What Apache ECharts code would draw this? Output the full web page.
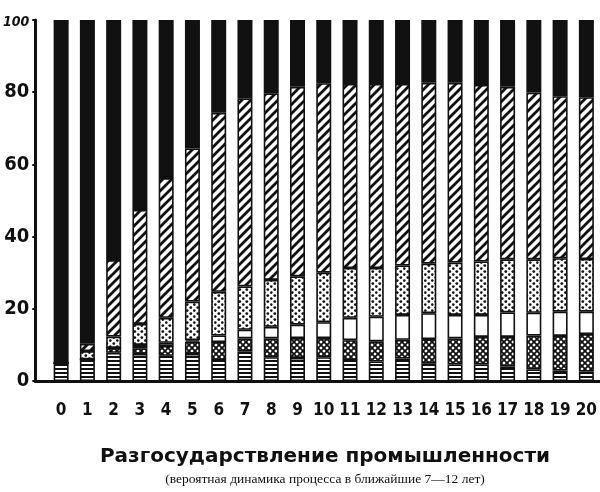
<!DOCTYPE html>
<html>
<head>
<meta charset="utf-8">
<script src="https://cdn.jsdelivr.net/npm/echarts@6/dist/echarts.min.js"></script>
<style>
html,body{margin:0;padding:0;background:#fff;}
#c{width:600px;height:492px;}
</style>
</head>
<body>
<div id="c"></div>
<script>
// Categories (x tick labels)
const categories = ['0','1','2','3','4','5','6','7','8','9','10','11','12','13','14','15','16','17','18','19','20'];
// y tick labels
const yTicks = [0, 20, 40, 60, 80, 100];
// Segment values (bottom to top), percent
const striped   = [5, 6, 7.8, 7.5, 7, 7.5, 5.8, 8.2, 6.6, 6.4, 6.6, 5.8, 5.4, 6.2, 4.9, 4.6, 4.6, 4, 3.2, 2.9, 2.6];
const crossed   = [0, 0, 1.4, 1.6, 2.7, 3.4, 5, 3.6, 5.2, 5.5, 5.3, 5.5, 5.6, 5.2, 6.7, 7.2, 7.6, 8.2, 9.4, 9.6, 10.4];
const blank     = [0, 0, 0, 0.9, 0.9, 0.4, 1.8, 2.4, 3.2, 3.7, 4.4, 6.2, 6.8, 6.9, 7.2, 6.5, 6.1, 6.8, 6.3, 6.7, 6.2];
const dotted    = [0, 2.3, 3.1, 5.8, 6.9, 10.7, 12.1, 12, 13, 13.4, 13.7, 13.8, 13.5, 13.7, 13.7, 14.5, 14.8, 14.7, 14.8, 14.8, 14.6];
const hatched   = [0, 2, 21.2, 31.6, 38.7, 42.4, 49.6, 52.1, 51.7, 52.5, 52.5, 51, 51, 50.3, 50.1, 49.8, 48.9, 47.8, 46.2, 44.9, 44.8];
const solid     = [95, 89.7, 66.5, 52.6, 43.8, 35.6, 25.7, 21.7, 20.3, 18.5, 17.5, 17.7, 17.7, 17.7, 17.4, 17.4, 18, 18.5, 20.1, 21.1, 21.4];

const titleText = 'Разгосударствление промышленности';
const subtitleText = '(вероятная динамика процесса в ближайшие 7—12 лет)';

function mk(w, h, draw) {
  const c = document.createElement('canvas');
  c.width = w; c.height = h;
  const g = c.getContext('2d');
  g.fillStyle = '#fff'; g.fillRect(0, 0, w, h);
  g.fillStyle = '#111'; g.strokeStyle = '#111';
  draw(g, w, h);
  return c;
}
const pStripe = mk(4, 4, (g) => { g.fillRect(0, 0, 4, 2); });
const pCross = mk(6, 6, (g) => {
  g.lineWidth = 1.8;
  g.beginPath();
  g.moveTo(-1, -1); g.lineTo(7, 7);
  g.moveTo(7, -1); g.lineTo(-1, 7);
  g.stroke();
});
const pDot = mk(7, 6, (g) => {
  g.beginPath(); g.arc(1.8, 1.6, 1.4, 0, Math.PI * 2); g.fill();
  g.beginPath(); g.arc(5.3, 4.6, 1.3, 0, Math.PI * 2); g.fill();
});
const pHatch = mk(9, 9, (g) => {
  g.lineWidth = 2.8;
  g.beginPath();
  g.moveTo(-2, 11); g.lineTo(11, -2);
  g.moveTo(-7, 7); g.lineTo(7, -7);
  g.moveTo(2, 16); g.lineTo(16, 2);
  g.stroke();
});

const fills = [
  { name: 'striped', data: striped, color: { image: pStripe, repeat: 'repeat' } },
  { name: 'crossed', data: crossed, color: { image: pCross, repeat: 'repeat' } },
  { name: 'blank', data: blank, color: '#ffffff' },
  { name: 'dotted', data: dotted, color: { image: pDot, repeat: 'repeat' } },
  { name: 'hatched', data: hatched, color: { image: pHatch, repeat: 'repeat' } },
  { name: 'solid', data: solid, color: '#111111' }
];

const numFont = "'Liberation Sans Narrow', 'DejaVu Sans Condensed', 'Liberation Sans', sans-serif";

const chart = echarts.init(document.getElementById('c'), null, { renderer: 'canvas' });
chart.setOption({
  backgroundColor: '#ffffff',
  animation: false,
  title: [
    {
      text: titleText,
      left: 320, top: 442, textAlign: 'center',
      textStyle: { fontFamily: "'DejaVu Sans', sans-serif", fontWeight: 'bold', fontSize: 20, color: '#111' }
    },
    {
      text: subtitleText,
      left: 320, top: 467, textAlign: 'center',
      textStyle: { fontFamily: "'Liberation Serif', 'DejaVu Serif', serif", fontWeight: 'normal', fontSize: 13.5, letterSpacing: 0.8, color: '#111' }
    }
  ],
  grid: [
    { left: 35, right: 0, top: 20, bottom: 111, containLabel: false },
    { left: 48, right: 0, top: 20, bottom: 111, containLabel: false }
  ],
  xAxis: [
    {
      gridIndex: 0, type: 'value', min: 0, max: 1,
      splitLine: { show: false }, axisTick: { show: false }, axisLabel: { show: false },
      axisLine: { show: true, onZero: false, lineStyle: { color: '#111', width: 3 } }
    },
    {
      gridIndex: 1, type: 'category', data: categories,
      axisLine: { show: false }, axisTick: { show: false }, splitLine: { show: false },
      axisLabel: { margin: 21, interval: 0, fontFamily: numFont, fontWeight: 'bold', fontSize: 17, color: '#111' }
    }
  ],
  yAxis: [
    {
      gridIndex: 0, type: 'value', min: 0, max: 100, interval: 20,
      splitLine: { show: false },
      axisTick: { show: true, length: 3, lineStyle: { color: '#111', width: 2 } },
      axisLine: { show: true, lineStyle: { color: '#111', width: 3 } },
      axisLabel: {
        margin: 6,
        fontFamily: numFont, fontWeight: 'bold', fontSize: 20, color: '#111',
        formatter: (v) => yTicks.indexOf(v) >= 0 ? (v === 100 ? '{t|' + v + '}' : String(v)) : '',
        rich: { t: { fontFamily: numFont, fontWeight: 'bold', fontStyle: 'italic', fontSize: 14, color: '#111', padding: [4, 0, 0, 0] } }
      }
    },
    {
      gridIndex: 1, type: 'value', min: 0, max: 100, interval: 20, show: false
    }
  ],
  series: fills.map((f) => ({
    name: f.name,
    type: 'bar',
    stack: 'all',
    xAxisIndex: 1, yAxisIndex: 1,
    barWidth: 15,
    data: f.data,
    itemStyle: { color: f.color, borderColor: '#111', borderWidth: 1.6 },
    emphasis: { disabled: true }
  }))
});
</script>
</body>
</html>
